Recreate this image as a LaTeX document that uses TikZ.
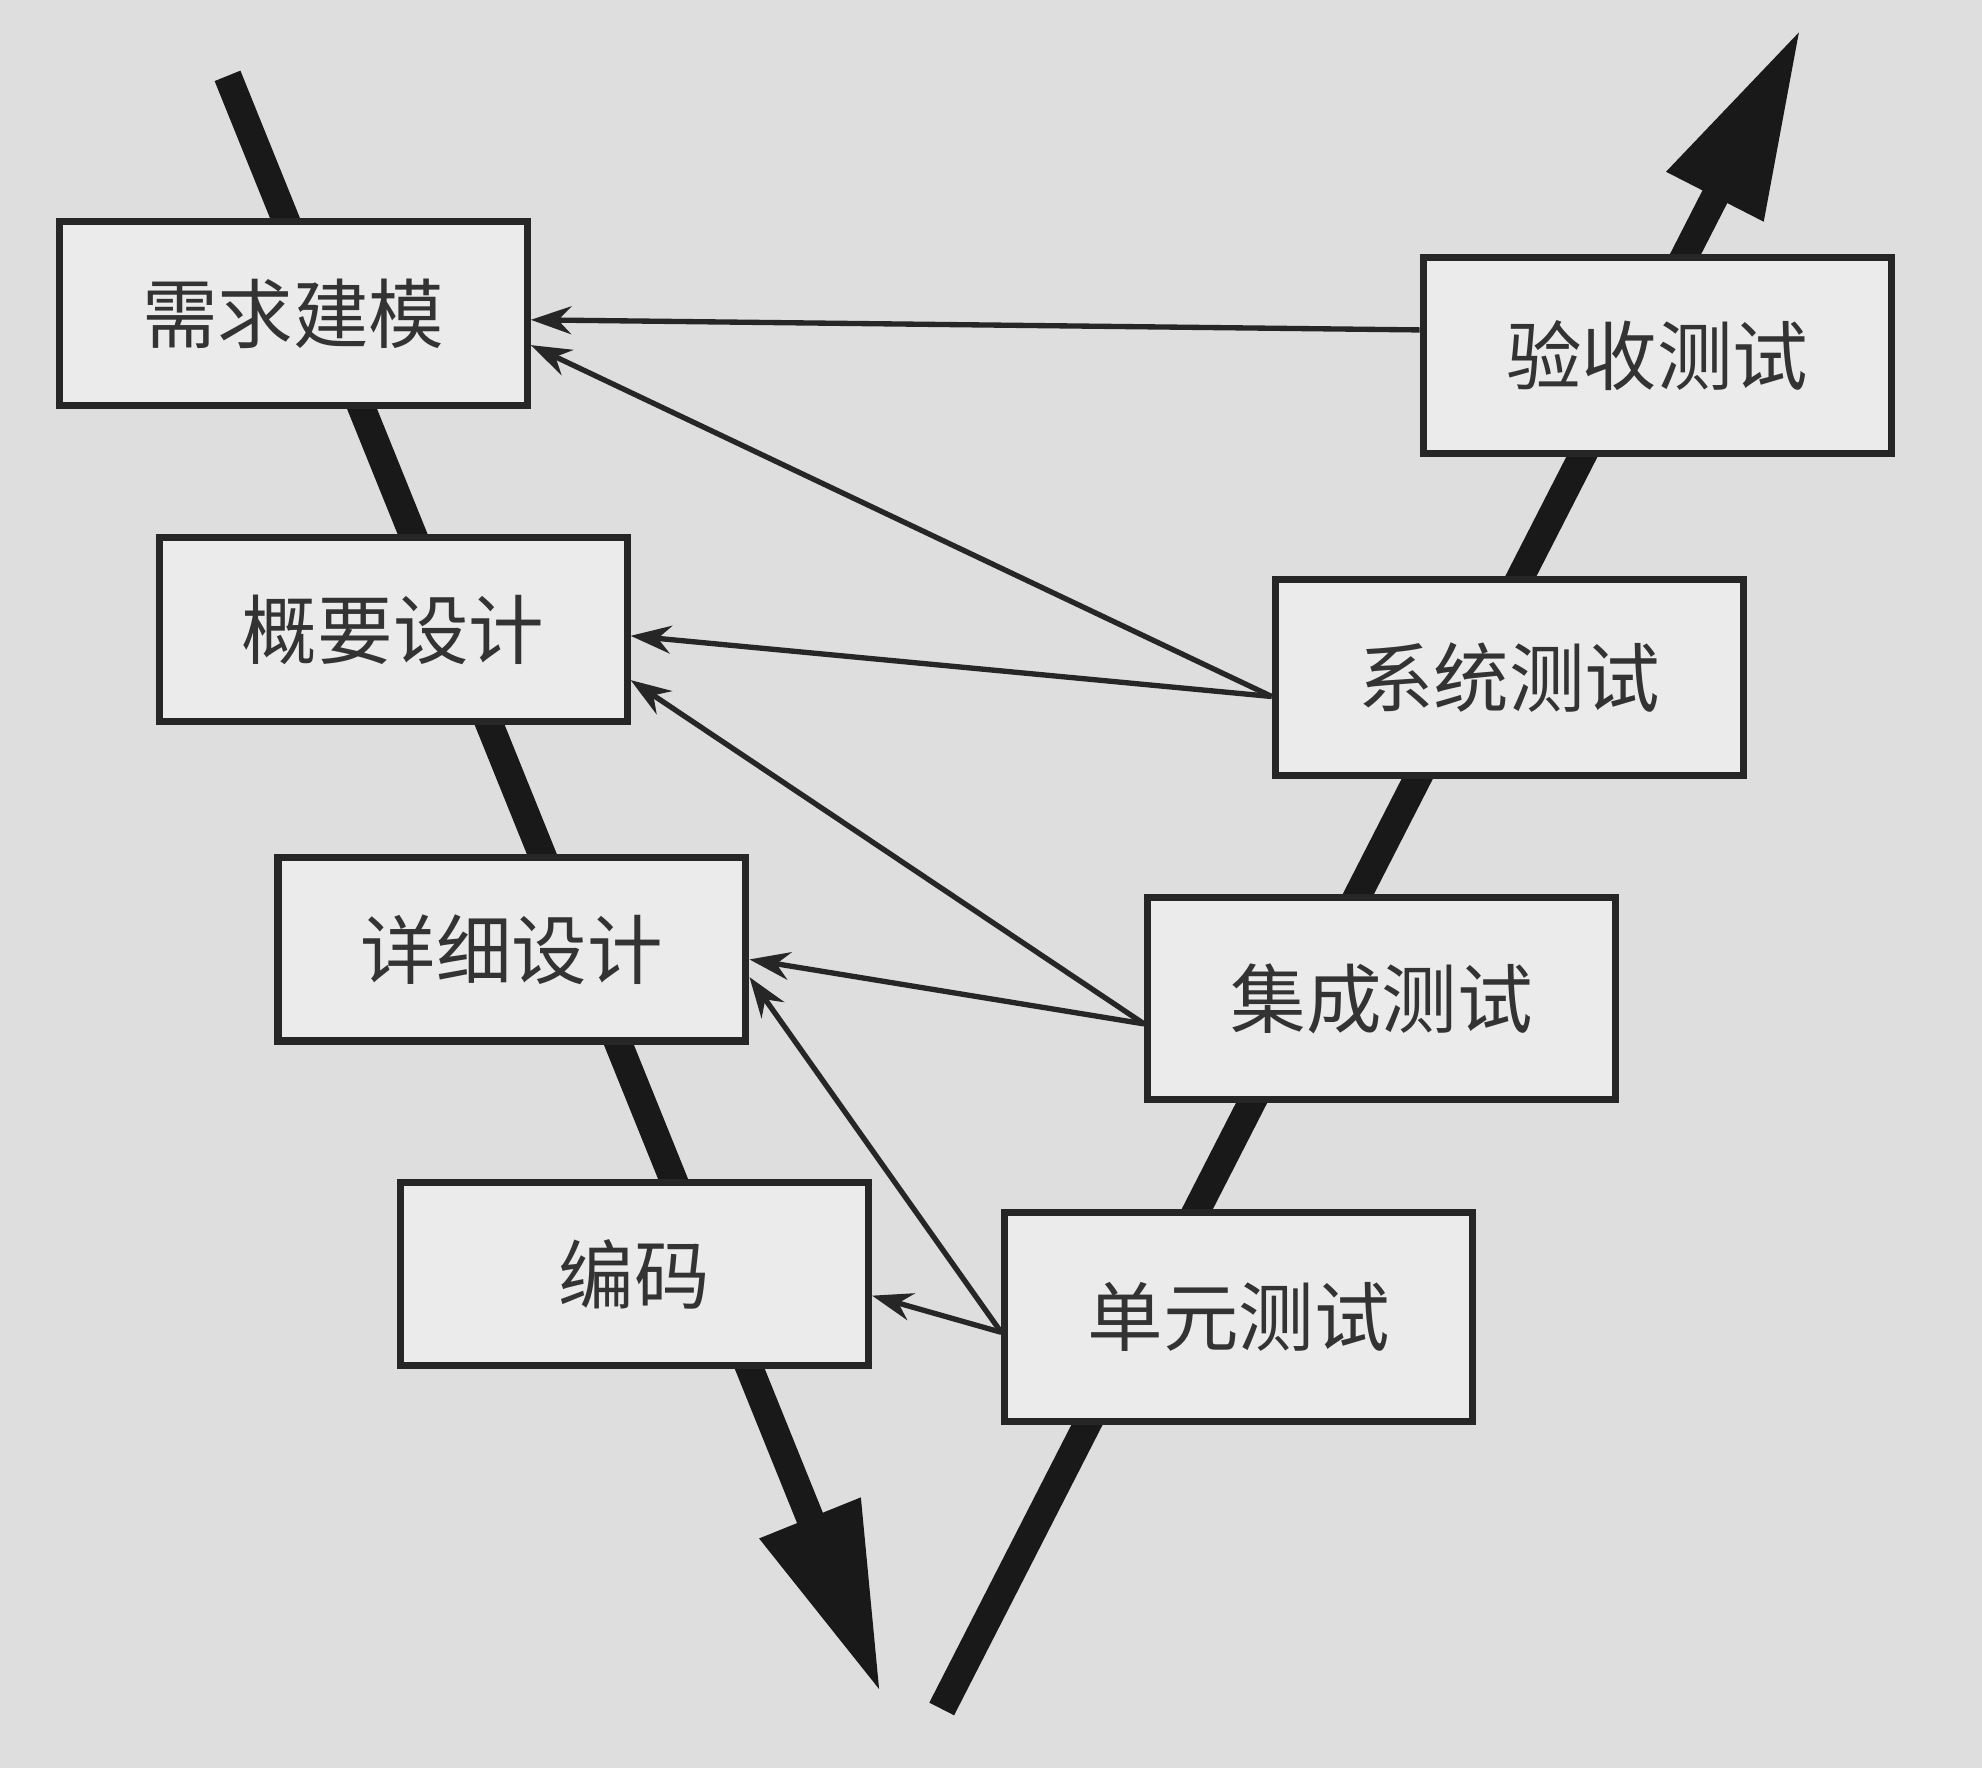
\documentclass[tikz,border=0pt]{standalone}
\usepackage{fontspec}
\newfontfamily\cjk{Noto Sans CJK SC}
\usetikzlibrary{arrows.meta}
\begin{document}
\begin{tikzpicture}[x=0.01cm,y=-0.01cm,
  box/.style={draw=black!85,line width=1.6pt,fill=black!8,minimum width=3.7cm,minimum height=1.45cm,font=\cjk\fontsize{17}{20}\selectfont,text=black!80},
  thick/.style={line width=0.22cm,black!90,-{Triangle[length=1.5cm,width=0.8cm]}},
  thin/.style={line width=1.2pt,black!85,-{Stealth[length=0.32cm,width=0.22cm]}}]
\fill[black!13] (0,0) rectangle (1568,1399);
\useasboundingbox (0,0) rectangle (1568,1399);
\coordinate (ls) at (180,60); \coordinate (le) at (697,1340);
\coordinate (rs) at (745,1352); \coordinate (re) at (1425,22);
\draw[thick] (ls) -- (le);
\draw[thick] (rs) -- (re);
\node[box] (a) at (232,248) {需求建模};
\node[box] (b) at (311,498) {概要设计};
\node[box] (c) at (405,751) {详细设计};
\node[box] (d) at (502,1008) {编码};
\node[box,minimum height=1.55cm] (e) at (1311,281) {验收测试};
\node[box,minimum height=1.55cm] (f) at (1194,536) {系统测试};
\node[box,minimum height=1.6cm] (g) at (1093,790) {集成测试};
\node[box,minimum height=1.65cm] (h) at (980,1042) {单元测试};
\draw[thin] (e.west) ++(0,-20) -- ([yshift=-0.05cm]a.east);
\draw[thin] ([yshift=-0.15cm]f.west) -- ([yshift=-0.25cm]a.east);
\draw[thin] ([yshift=-0.15cm]f.west) -- ([yshift=-0.05cm]b.east);
\draw[thin] ([yshift=-0.2cm]g.west) -- ([yshift=-0.4cm]b.east);
\draw[thin] ([yshift=-0.2cm]g.west) -- ([yshift=-0.08cm]c.east);
\draw[thin] ([yshift=-0.12cm]h.west) -- ([yshift=-0.22cm]c.east);
\draw[thin] ([yshift=-0.12cm]h.west) -- ([yshift=-0.17cm]d.east);
\end{tikzpicture}
\end{document}
